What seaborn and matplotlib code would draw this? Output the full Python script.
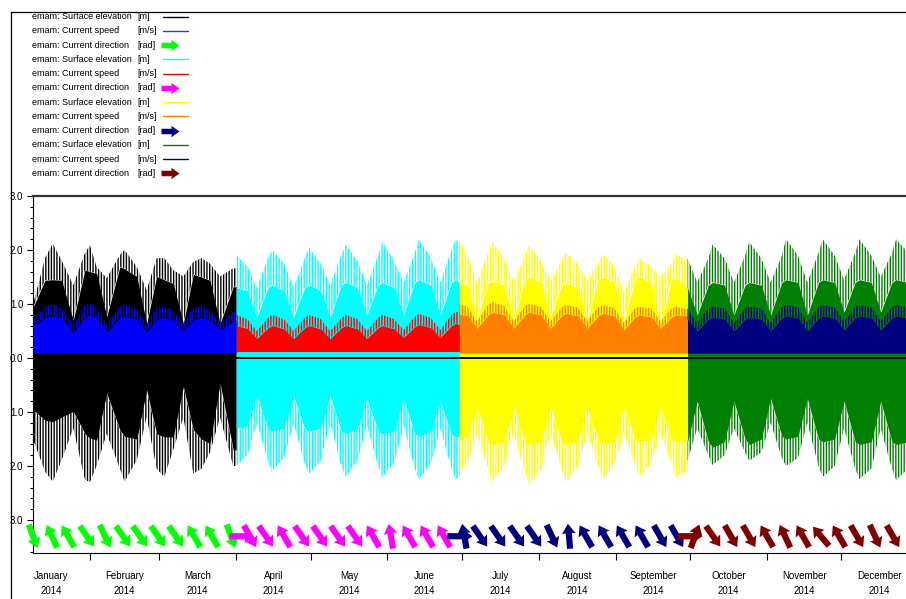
import numpy as np
import pandas as pd
import matplotlib
matplotlib.use("Agg")
import matplotlib.pyplot as plt
import matplotlib.dates as mdates
from matplotlib.ticker import FixedLocator, FixedFormatter, FuncFormatter, MultipleLocator, NullFormatter
import seaborn as sns

# ---------------------------------------------------------------
# values; days are day-of-year 2014 (0 = 1 Jan)
# envelopes read at the turning points of each spring/neap cycle
# ---------------------------------------------------------------
q1_days = [8.2, 12.9, 16.0, 19.6, 24.3, 29.0, 31.0, 33.7, 37.8, 43.1, 45.0, 49.9,
           53.9, 57.9, 61.0, 64.6, 68.7, 72.7, 76.0, 79.4, 83.5, 88.8, 90.0]
q1_elev_tip_up = [1.01, 1.85, 2.12, 1.81, 1.35, 1.94, 2.09, 1.69, 1.48, 1.91, 2.00, 1.69,
                  1.26, 1.85, 1.85, 1.63, 1.51, 1.78, 1.85, 1.75, 1.51, 1.66, 1.66]
q1_elev_body_up = [0.95, 1.44, 1.45, 1.44, 0.70, 1.63, 1.60, 1.57, 0.77, 1.69, 1.65, 1.51,
                   0.64, 1.51, 1.45, 1.38, 0.64, 1.55, 1.50, 1.44, 0.64, 1.32, 1.32]
q1_elev_body_dn = [-0.96, -1.15, -1.18, -1.09, -0.99, -1.40, -1.48, -1.52, -0.65, -1.33, -1.45, -1.50,
                   -0.59, -1.40, -1.46, -1.46, -0.53, -1.33, -1.50, -1.58, -0.47, -1.70, -1.70]
q1_elev_tip_dn = [-1.52, -2.10, -2.29, -1.89, -1.30, -2.25, -2.30, -2.00, -1.40, -2.05, -2.29, -1.89,
                  -1.09, -2.05, -2.20, -1.70, -1.10, -2.14, -2.05, -1.75, -1.10, -2.00, -2.00]
q1_speed_top = [0.60, 0.75, 0.78, 0.74, 0.47, 0.76, 0.80, 0.74, 0.48, 0.75, 0.78, 0.72,
                0.48, 0.72, 0.75, 0.70, 0.50, 0.72, 0.74, 0.70, 0.52, 0.68, 0.68]
q1_speed_tip = [0.75, 0.95, 1.00, 0.92, 0.62, 0.98, 1.02, 0.92, 0.62, 0.96, 1.00, 0.90,
                0.62, 0.94, 0.96, 0.88, 0.65, 0.94, 0.96, 0.88, 0.66, 0.85, 0.85]
q1_speed_floor = 0.10

q2_days = [90.0, 94.5, 98.3, 102.8, 104.5, 109.3, 113.1, 117.6, 119.3, 124.1, 127.9, 132.4, 134.1,
           138.9, 142.7, 147.2, 148.9, 153.7, 157.5, 162.0, 163.7, 168.5, 172.3, 176.8, 178.5, 180.0]
q2_elev_tip_up = [1.90, 1.70, 1.30, 1.85, 2.00, 1.75, 1.30, 1.85, 2.05, 1.75, 1.35, 1.90, 2.10,
                  1.80, 1.35, 1.90, 2.15, 1.80, 1.40, 1.95, 2.20, 1.85, 1.40, 2.00, 2.20, 2.10]
q2_elev_body_up = [1.30, 1.25, 0.75, 1.30, 1.35, 1.25, 0.75, 1.30, 1.35, 1.25, 0.75, 1.35, 1.40,
                   1.30, 0.80, 1.35, 1.40, 1.30, 0.80, 1.40, 1.45, 1.35, 0.80, 1.40, 1.45, 1.40]
q2_elev_body_dn = [-1.30, -1.25, -0.70, -1.30, -1.35, -1.30, -0.70, -1.30, -1.35, -1.30, -0.70, -1.35, -1.40,
                   -1.30, -0.75, -1.35, -1.40, -1.35, -0.75, -1.40, -1.45, -1.35, -0.80, -1.40, -1.45, -1.45]
q2_elev_tip_dn = [-2.00, -1.80, -1.20, -1.90, -2.10, -1.85, -1.20, -1.95, -2.15, -1.90, -1.20, -2.00, -2.20,
                  -1.90, -1.25, -2.00, -2.20, -1.95, -1.25, -2.05, -2.25, -1.95, -1.30, -2.05, -2.25, -2.20]
q2_speed_top = [0.60, 0.55, 0.36, 0.56, 0.60, 0.54, 0.36, 0.56, 0.60, 0.54, 0.36, 0.56, 0.60,
                0.54, 0.36, 0.56, 0.60, 0.54, 0.38, 0.58, 0.62, 0.56, 0.38, 0.60, 0.64, 0.62]
q2_speed_tip = [0.80, 0.72, 0.50, 0.74, 0.80, 0.72, 0.50, 0.74, 0.80, 0.72, 0.50, 0.74, 0.80,
                0.72, 0.50, 0.74, 0.80, 0.72, 0.52, 0.76, 0.82, 0.74, 0.52, 0.80, 0.85, 0.85]
q2_speed_floor = 0.12

q3_days = [180.0, 183.3, 187.1, 191.6, 193.3, 198.1, 201.9, 206.4, 208.1, 212.9, 216.7, 221.2, 222.9,
           227.7, 231.5, 236.0, 237.7, 242.5, 246.3, 250.8, 252.5, 257.3, 261.1, 265.6, 267.3, 272.0]
q3_elev_tip_up = [2.18, 1.90, 1.39, 1.95, 2.15, 1.85, 1.42, 1.90, 2.09, 1.80, 1.42, 1.80, 1.96,
                  1.75, 1.45, 1.75, 1.93, 1.70, 1.20, 1.70, 1.85, 1.70, 1.50, 1.75, 1.93, 1.80]
q3_elev_body_up = [1.39, 1.35, 0.70, 1.39, 1.42, 1.35, 0.70, 1.45, 1.50, 1.40, 0.75, 1.35, 1.38,
                   1.30, 0.70, 1.45, 1.50, 1.40, 0.65, 1.45, 1.50, 1.40, 0.65, 1.45, 1.48, 1.30]
q3_elev_body_dn = [-1.50, -1.45, -0.90, -1.55, -1.60, -1.55, -0.90, -1.55, -1.60, -1.55, -0.90, -1.55, -1.60,
                   -1.55, -0.90, -1.55, -1.60, -1.55, -0.90, -1.50, -1.55, -1.50, -0.90, -1.50, -1.55, -1.50]
q3_elev_tip_dn = [-2.10, -1.95, -1.40, -2.05, -2.30, -2.00, -1.40, -2.10, -2.35, -2.05, -1.40, -2.05, -2.30,
                  -2.00, -1.40, -2.00, -2.25, -1.95, -1.40, -1.95, -2.20, -1.95, -1.40, -1.95, -2.20, -2.10]
q3_speed_top = [0.82, 0.78, 0.55, 0.80, 0.85, 0.80, 0.55, 0.80, 0.85, 0.80, 0.55, 0.78, 0.83,
                0.78, 0.55, 0.78, 0.83, 0.78, 0.52, 0.76, 0.80, 0.76, 0.55, 0.76, 0.80, 0.78]
q3_speed_tip = [1.00, 0.95, 0.68, 0.98, 1.04, 0.96, 0.68, 0.96, 1.00, 0.95, 0.68, 0.94, 0.98,
                0.94, 0.68, 0.94, 0.98, 0.92, 0.65, 0.92, 0.95, 0.92, 0.68, 0.92, 0.95, 0.90]
q3_speed_floor = 0.09

q4_days = [272.0, 275.9, 280.4, 282.1, 286.9, 290.7, 295.2, 296.9, 301.7, 305.5, 310.0, 311.7, 316.5,
           320.3, 324.8, 326.5, 331.3, 335.1, 339.6, 341.3, 346.1, 349.9, 354.4, 356.1, 360.9, 362.0]
q4_elev_tip_up = [1.85, 1.40, 1.85, 2.10, 1.85, 1.40, 1.90, 2.15, 1.85, 1.40, 1.90, 2.20, 1.90,
                  1.40, 1.95, 2.20, 1.90, 1.45, 1.95, 2.20, 1.90, 1.50, 1.95, 2.20, 1.95, 1.95]
q4_elev_body_up = [1.30, 0.80, 1.35, 1.40, 1.35, 0.80, 1.35, 1.40, 1.35, 0.80, 1.40, 1.45, 1.40,
                   0.80, 1.40, 1.45, 1.40, 0.85, 1.40, 1.45, 1.40, 0.85, 1.40, 1.45, 1.40, 1.40]
q4_elev_body_dn = [-1.55, -0.80, -1.55, -1.65, -1.55, -0.80, -1.50, -1.60, -1.50, -0.75, -1.45, -1.50, -1.45,
                   -0.75, -1.50, -1.55, -1.50, -0.80, -1.55, -1.60, -1.55, -0.80, -1.55, -1.60, -1.55, -1.55]
q4_elev_tip_dn = [-1.90, -1.30, -1.80, -1.98, -1.80, -1.30, -1.75, -1.90, -1.75, -1.20, -1.85, -2.00, -1.85,
                  -1.20, -2.00, -2.20, -2.00, -1.30, -2.05, -2.24, -2.05, -1.30, -2.05, -2.26, -2.05, -2.05]
q4_speed_top = [0.72, 0.50, 0.72, 0.76, 0.72, 0.50, 0.72, 0.76, 0.72, 0.50, 0.74, 0.78, 0.74,
                0.50, 0.74, 0.78, 0.74, 0.52, 0.74, 0.78, 0.74, 0.52, 0.74, 0.78, 0.74, 0.74]
q4_speed_tip = [0.92, 0.65, 0.92, 0.95, 0.92, 0.65, 0.92, 0.95, 0.92, 0.65, 0.94, 0.98, 0.94,
                0.65, 0.94, 0.98, 0.94, 0.68, 0.94, 0.98, 0.94, 0.68, 0.94, 0.98, 0.94, 0.94]
q4_speed_floor = 0.09

# current direction arrows (degrees clockwise from north)
q1_arrow_days = [8.1, 15.7, 22.2, 29.8, 37.1, 44.4, 51.2, 58.5, 65.7, 73.0, 80.2, 87.9]
q1_arrow_dir = [160, 335, 330, 145, 155, 145, 145, 145, 145, 330, 330, 160]
q2_arrow_days = [92.3, 95.6, 102.0, 109.3, 116.5, 123.8, 131.0, 137.9, 145.2, 152.4, 159.7, 166.9, 173.8]
q2_arrow_dir = [90, 150, 145, 330, 145, 145, 145, 145, 330, 350, 330, 330, 330]
q3_arrow_days = [180.2, 182.0, 188.3, 195.6, 203.2, 210.1, 217.3, 224.2, 231.0, 238.7, 246.0, 253.6, 260.9, 267.7]
q3_arrow_dir = [90, 350, 145, 145, 145, 145, 155, 355, 330, 330, 330, 330, 150, 150]
q4_arrow_days = [273.0, 275.0, 282.3, 289.5, 296.8, 304.0, 311.3, 318.5, 325.8, 333.1, 340.3, 347.6, 354.8]
q4_arrow_dir = [90, 20, 145, 150, 150, 330, 335, 330, 320, 330, 150, 155, 150]

elev_colors = ["#000000", "#00ffff", "#ffff00", "#008000"]
speed_colors = ["#0000ff", "#ff0000", "#ff8000", "#000080"]
dir_colors = ["#00ff00", "#ff00ff", "#000080", "#800000"]

legend_names = ["emam: Surface elevation", "emam: Current speed", "emam: Current direction"] * 4
legend_units = ["[m]", "[m/s]", "[rad]"] * 4
legend_colors = ["#000000", "#3333ff", "#00ff00", "#00ffff", "#ff0000", "#ff00ff",
                 "#ffff00", "#ff8000", "#000080", "#008000", "#000080", "#800000"]
legend_kinds = ["line", "line", "arrow"] * 4

month_names = ["January", "February", "March", "April", "May", "June", "July",
               "August", "September", "October", "November", "December"]

# ---------------------------------------------------------------
sns.set_theme(style="white")
plt.rcParams['font.family'] = ['Liberation Sans', 'DejaVu Sans']
plt.rcParams['hatch.linewidth'] = 1.0

base = mdates.date2num(pd.Timestamp("2014-01-01"))


def to_num(days):
    return base + np.asarray(days, dtype=float)


runs = [
    (q1_days, q1_elev_tip_up, q1_elev_body_up, q1_elev_body_dn, q1_elev_tip_dn,
     q1_speed_floor, q1_speed_top, q1_speed_tip, q1_arrow_days, q1_arrow_dir),
    (q2_days, q2_elev_tip_up, q2_elev_body_up, q2_elev_body_dn, q2_elev_tip_dn,
     q2_speed_floor, q2_speed_top, q2_speed_tip, q2_arrow_days, q2_arrow_dir),
    (q3_days, q3_elev_tip_up, q3_elev_body_up, q3_elev_body_dn, q3_elev_tip_dn,
     q3_speed_floor, q3_speed_top, q3_speed_tip, q3_arrow_days, q3_arrow_dir),
    (q4_days, q4_elev_tip_up, q4_elev_body_up, q4_elev_body_dn, q4_elev_tip_dn,
     q4_speed_floor, q4_speed_top, q4_speed_tip, q4_arrow_days, q4_arrow_dir),
]

W, H = 906, 599
fig = plt.figure(figsize=(W / 100, H / 100), dpi=100)
fig.patch.set_facecolor("white")

ax = fig.add_axes([33 / W, 1 - 553 / H, 1 - 33 / W, (553 - 196) / H])
ax.set_facecolor("white")

ARROW_Y = -3.3
HATCH = "||||||"
for i, (days, tu, bu, bd, td, floor, st, stip, adays, adir) in enumerate(runs):
    x = to_num(days)
    ec, sc, dc = elev_colors[i], speed_colors[i], dir_colors[i]
    # surface elevation: solid core plus spiky outer band
    ax.fill_between(x, bd, bu, color=ec, linewidth=0, zorder=2)
    ax.fill_between(x, bu, tu, facecolor="none", edgecolor=ec, hatch=HATCH,
                    linewidth=0, zorder=2.1)
    ax.fill_between(x, td, bd, facecolor="none", edgecolor=ec, hatch=HATCH,
                    linewidth=0, zorder=2.1)
    # current speed
    ax.fill_between(x, floor, st, color=sc, linewidth=0, zorder=3)
    ax.fill_between(x, st, stip, facecolor="none", edgecolor=sc, hatch=HATCH,
                    linewidth=0, zorder=3.1)
    # current direction
    th = np.deg2rad(adir)
    ax.quiver(to_num(adays), np.full(len(adays), ARROW_Y), np.sin(th), np.cos(th),
              color=dc, angles="uv", pivot="middle", units="inches",
              scale_units="inches", scale=1 / 0.25, width=0.062, headwidth=2.2,
              headlength=1.6, headaxislength=1.5, zorder=5, clip_on=False)

ax.axhline(0, color="black", linewidth=1.4, zorder=4)

ax.set_xlim(base + (33 - 13) / 2.48, base + (W - 13) / 2.48)
ax.set_ylim(-3.61, 3.0)

# y axis: absolute values, minor ticks every 0.2
ax.yaxis.set_major_locator(MultipleLocator(1.0))
ax.yaxis.set_minor_locator(MultipleLocator(0.2))
ax.yaxis.set_major_formatter(FuncFormatter(lambda v, p: f"{abs(v):.1f}"))
ax.tick_params(axis="y", which="major", left=True, direction="out", length=4.5,
               width=0.8, pad=2.5, labelsize=7, colors="black")
ax.tick_params(axis="y", which="minor", left=True, direction="out", length=2.2,
               width=0.8, colors="black")

# x axis: ticks at month starts, labels in mid month
starts = mdates.date2num(pd.date_range("2014-01-01", "2015-01-01", freq="MS"))
mids = (starts[:-1] + starts[1:]) / 2
ax.xaxis.set_major_locator(FixedLocator(starts))
ax.xaxis.set_major_formatter(NullFormatter())
ax.xaxis.set_minor_locator(FixedLocator(mids))
ax.xaxis.set_minor_formatter(FixedFormatter([f"{m}\n2014" for m in month_names]))
ax.tick_params(axis="x", which="major", bottom=True, direction="out", length=5,
               width=0.8, colors="black")
ax.tick_params(axis="x", which="minor", bottom=True, length=0, pad=13,
               labelsize=7, colors="black")
for lab in ax.xaxis.get_minorticklabels():
    lab.set_linespacing(1.6)

for side in ["left", "bottom"]:
    ax.spines[side].set_color("black")
    ax.spines[side].set_linewidth(0.8)
ax.spines["top"].set_color("#333333")
ax.spines["top"].set_linewidth(1.6)
ax.spines["right"].set_visible(False)
ax.grid(False)

# ---- frame and legend block drawn in pixel space ----
ov = fig.add_axes([0, 0, 1, 1], zorder=10)
ov.set_xlim(0, W)
ov.set_ylim(H, 0)
ov.axis("off")
ov.patch.set_alpha(0)
ov.plot([11, W], [12, 12], color="black", linewidth=0.9)
ov.plot([11, 11], [12, H], color="black", linewidth=0.9)

for k, (name, unit, col, kind) in enumerate(zip(legend_names, legend_units,
                                                 legend_colors, legend_kinds)):
    yy = 16.5 + 14.27 * k
    ov.text(32, yy, name, fontsize=6.5, va="center", ha="left", color="black")
    ov.text(137, yy, unit, fontsize=6.5, va="center", ha="left", color="black")
    if kind == "line":
        ov.plot([163, 188], [yy, yy], color=col, linewidth=1.0)
    else:
        ov.quiver([170], [yy], [1], [0], color=col, angles="uv", pivot="middle",
                  units="inches", scale_units="inches", scale=1 / 0.18,
                  width=0.055, headwidth=2.1, headlength=1.5, headaxislength=1.4)

fig.savefig("out.png", dpi=100)
